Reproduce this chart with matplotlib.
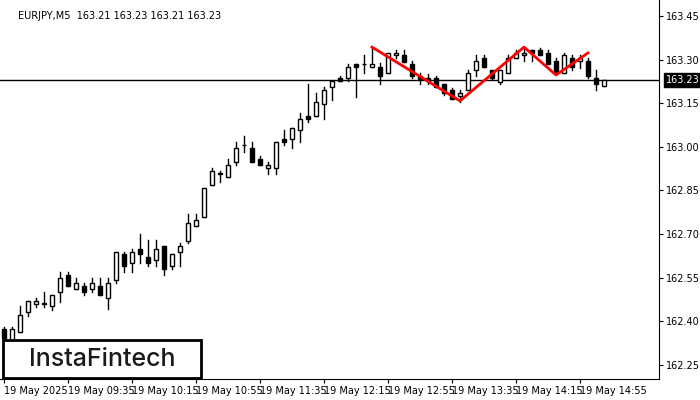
import matplotlib
matplotlib.use("Agg")
import matplotlib.pyplot as plt
from matplotlib.patches import Rectangle

opens = [162.374,162.336,162.363,162.432,162.460,162.460,162.453,162.501,162.559,162.511,
         162.521,162.511,162.521,162.480,162.542,162.632,162.601,162.649,162.621,162.611,
         162.659,162.590,162.638,162.676,162.728,162.759,162.869,162.907,162.896,162.948,
         163.006,162.996,162.958,162.927,162.927,163.027,163.027,163.058,163.106,163.106,
         163.147,163.206,163.237,163.237,163.285,163.285,163.275,163.275,163.254,163.316,
         163.316,163.285,163.244,163.237,163.237,163.216,163.196,163.175,163.196,163.264,
         163.306,163.264,163.223,163.254,163.306,163.316,163.333,163.333,163.323,163.295,
         163.254,163.306,163.295,163.295,163.237,163.210]
highs = [162.380,162.380,162.453,162.470,162.480,162.501,162.490,162.570,162.570,162.549,
         162.532,162.549,162.549,162.549,162.638,162.638,162.649,162.700,162.680,162.680,
         162.659,162.632,162.669,162.769,162.769,162.858,162.927,162.917,162.958,163.017,
         163.037,163.017,162.969,162.948,163.017,163.058,163.065,163.116,163.216,163.185,
         163.206,163.226,163.244,163.285,163.285,163.316,163.343,163.288,163.323,163.333,
         163.333,163.295,163.254,163.251,163.244,163.216,163.202,163.196,163.264,163.316,
         163.316,163.264,163.264,163.316,163.333,163.340,163.333,163.340,163.333,163.306,
         163.323,163.316,163.316,163.306,163.264,163.230]
lows = [162.336,162.329,162.363,162.418,162.449,162.449,162.439,162.466,162.521,162.511,
        162.490,162.501,162.490,162.442,162.532,162.570,162.570,162.601,162.590,162.590,
        162.559,162.580,162.590,162.669,162.728,162.759,162.869,162.879,162.896,162.938,
        162.982,162.948,162.938,162.907,162.907,163.006,162.996,163.017,163.085,163.106,
        163.096,163.161,163.226,163.226,163.171,163.254,163.275,163.216,163.254,163.306,
        163.292,163.237,163.216,163.216,163.206,163.178,163.165,163.154,163.196,163.244,
        163.275,163.233,163.216,163.254,163.306,163.295,163.295,163.316,163.285,163.254,
        163.254,163.264,163.271,163.237,163.196,163.210]
closes = [162.343,162.374,162.422,162.470,162.470,162.463,162.490,162.549,162.521,162.532,
          162.501,162.532,162.490,162.532,162.638,162.590,162.638,162.632,162.601,162.649,
          162.580,162.632,162.659,162.738,162.748,162.858,162.917,162.910,162.938,162.996,
          163.006,162.948,162.938,162.938,163.017,163.017,163.065,163.096,163.096,163.154,
          163.196,163.226,163.226,163.275,163.275,163.285,163.285,163.244,163.323,163.323,
          163.292,163.244,163.233,163.226,163.206,163.185,163.165,163.185,163.254,163.295,
          163.275,163.237,163.264,163.306,163.323,163.323,163.323,163.316,163.285,163.254,
          163.316,163.275,163.306,163.244,163.216,163.230]

pattern_idx = [46, 57, 65, 69, 73]
pattern_price = [163.343, 163.158, 163.343, 163.247, 163.323]

yticks = [163.45, 163.30, 163.15, 163.00, 162.85, 162.70, 162.55, 162.40, 162.25]
xtick_idx = [0, 8, 16, 24, 32, 40, 48, 56, 64, 72]
xtick_labels = ["19 May 2025", "19 May 09:35", "19 May 10:15", "19 May 10:55", "19 May 11:35",
                "19 May 12:15", "19 May 12:55", "19 May 13:35", "19 May 14:15", "19 May 14:55"]
current = 163.23

fig = plt.figure(figsize=(7, 4), dpi=100)
ax = fig.add_axes([0.0, 1 - 379/400, 659/700, 379/400])
ax.set_xlim(-0.5, (659 - 4) / 8)
ax.set_ylim(162.2015, 163.505)

w = 0.55
for i, (o, h, l, c) in enumerate(zip(opens, highs, lows, closes)):
    ax.plot([i, i], [l, h], color="black", lw=1, zorder=2)
    bot, top = min(o, c), max(o, c)
    ht = max(top - bot, 0.0015)
    fc = "white" if c >= o else "black"
    ax.add_patch(Rectangle((i - w/2, bot), w, ht, facecolor=fc, edgecolor="black", lw=1, zorder=3))

ax.axhline(current, color="black", lw=1, zorder=1)
ax.plot(pattern_idx, pattern_price, color="#ff0000", lw=2, zorder=4)

ax.yaxis.tick_right()
ax.set_yticks(yticks)
ax.set_yticklabels([f"{v:.2f}" for v in yticks], fontsize=7)
ax.set_xticks(xtick_idx)
ax.set_xticklabels(xtick_labels, fontsize=7, ha="left")
ax.tick_params(length=3, pad=2, color="black")
for s in ["top", "left"]:
    ax.spines[s].set_visible(False)
ax.annotate(f"{current:.2f}", xy=(1, current), xycoords=("axes fraction", "data"),
            xytext=(5, 0), textcoords="offset points", va="center", ha="left",
            fontsize=7, color="white",
            bbox=dict(boxstyle="square,pad=0.2", fc="black", ec="black"), zorder=10)

ax.text(0.027, 0.972, "EURJPY,M5  163.21 163.23 163.21 163.23", transform=ax.transAxes,
        fontsize=7, va="top", ha="left")

fig.patches.append(Rectangle((3/700, 1 - 378/400), 198/700, 38/400, transform=fig.transFigure,
                             fc="white", ec="black", lw=2, zorder=20))
fig.text(102/700, 1 - 360/400, "InstaFintech", fontsize=18, ha="center", va="center",
         color="#1a1a1a", zorder=21, family="Inter", fontweight="medium")

fig.savefig("out.png", dpi=100)
